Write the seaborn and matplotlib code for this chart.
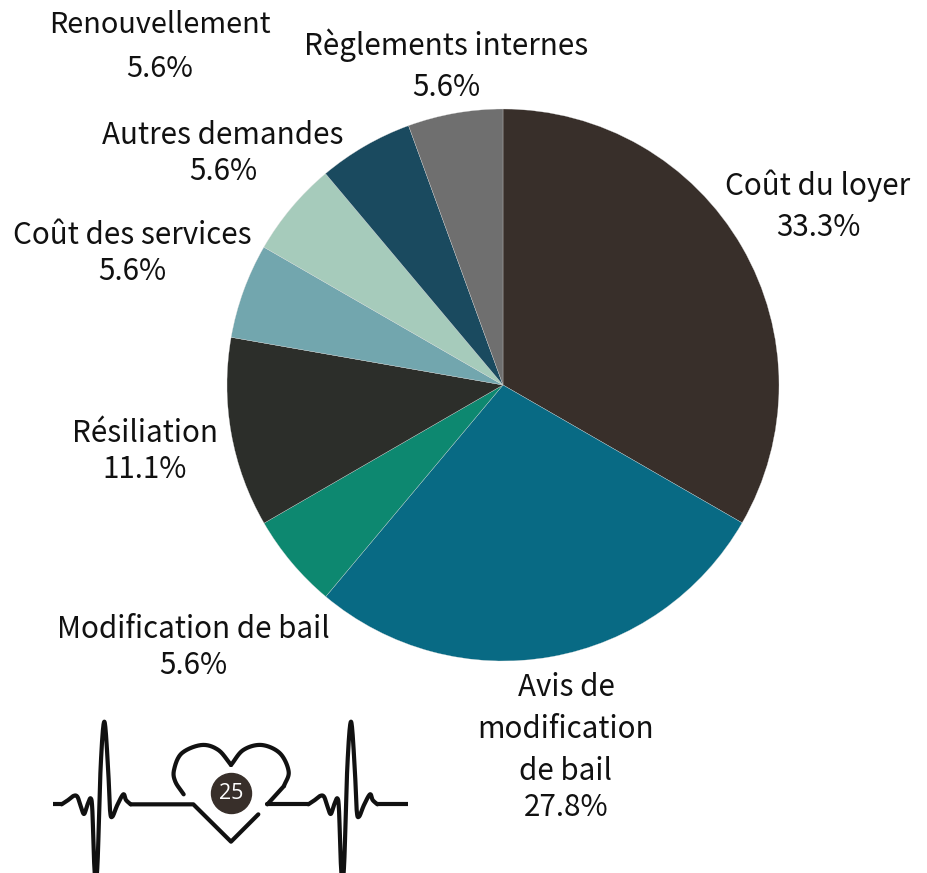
import matplotlib
matplotlib.use("Agg")
import matplotlib.pyplot as plt
import seaborn as sns
import numpy as np
from matplotlib.patches import Circle

sns.set_theme(style="white")
plt.rcParams['font.family'] = ['Noto Sans CJK SC', 'Noto Sans', 'DejaVu Sans']

categories = ["Coût du loyer", "Avis de\nmodification\nde bail", "Modification de bail", "Résiliation",
              "Coût des services", "Renouvellement", "Autres demandes", "Règlements internes"]
values = [33.3, 27.8, 5.6, 11.1, 5.6, 5.6, 5.6, 5.6]
pie_values = [33.33, 27.78, 5.56, 11.11, 5.56, 5.56, 5.56, 5.56]
colors = ["#382f2a", "#086a84", "#0d8870", "#2c2e2a", "#72a6ae", "#a6cbbb", "#1a4a5f", "#6f6f6f"]
label_x = [818, 566, 193, 145, 132, 160, 223, 446]
label_lines_y = [[186, 228], [688, 730, 772, 808], [630, 665], [434, 469],
                 [235, 271], [25, 69], [135, 171], [45, 88]]
label_sizes = [21.3, 21.3, 21.3, 21.3, 21.3, 20.8, 21.3, 21.3]

W, H = 928, 873
fig = plt.figure(figsize=(W/100, H/100), dpi=100)
ax = fig.add_axes([0, 0, 1, 1])
ax.set_xlim(0, W); ax.set_ylim(H, 0); ax.axis("off")

ax2 = fig.add_axes([(503-276)/W, 1-(385+276)/H, 552/W, 552/H])
ax2.pie(pie_values, colors=colors, startangle=90, counterclock=False, radius=1.0,
        wedgeprops=dict(edgecolor="#dddddd", linewidth=0.2))
ax2.set_xlim(-1, 1); ax2.set_ylim(-1, 1)

for c, v, x, ys, fs in zip(categories, values, label_x, label_lines_y, label_sizes):
    for line, y in zip(c.split("\n") + [f"{v}%"], ys):
        ax.text(x, y, line, ha="center", va="center", fontsize=fs, color="#111111")


def smooth(points, n=24):
    p = np.array(points, dtype=float)
    p = np.vstack([2 * p[0] - p[1], p, 2 * p[-1] - p[-2]])
    t = np.linspace(0, 1, n)[:, None]
    out = []
    for i in range(1, len(p) - 2):
        a, b, c, d = p[i - 1], p[i], p[i + 1], p[i + 2]
        out.append(0.5 * (2 * b + (c - a) * t + (2 * a - 5 * b + 4 * c - d) * t ** 2
                          + (3 * b - a - 3 * c + d) * t ** 3))
    return np.vstack(out)


def to_px(points):
    a = np.asarray(points, dtype=float)
    return np.column_stack([30 + a[:, 0] / 3, 700 + a[:, 1] / 3])


ecg = [(95, 313), (112, 302), (130, 288), (142, 290), (152, 318), (162, 342), (172, 315), (182, 295),
       (187, 330), (192, 480), (197, 540), (203, 480), (212, 200), (223, 65), (234, 200), (240, 330),
       (247, 350), (262, 315), (280, 283), (288, 300), (302, 313)]
style = dict(color="#111111", lw=3.0, solid_capstyle="round", solid_joinstyle="round", clip_on=True)
for off in (0, 740):
    px = to_px(smooth([(x + off, y) for x, y in ecg]))
    ax.plot(px[:, 0], px[:, 1], **style)

seg1 = to_px([(70, 313), (95, 313)])
seg2 = to_px([(302, 313), (490, 313), (603, 425), (685, 343)])
seg3 = to_px([(712, 313), (835, 313)])
seg4 = to_px([(1042, 313), (1133, 313)])
for s in (seg1, seg4):
    ax.plot(s[:, 0], s[:, 1], **{**style, "solid_capstyle": "butt"})
for s in (seg2, seg3):
    ax.plot(s[:, 0], s[:, 1], **style)

heart_left = smooth([(461, 283), (436, 245), (432, 210), (455, 160), (515, 135), (565, 150), (603, 195)])
heart_right = smooth([(603, 195), (640, 150), (695, 135), (750, 160), (776, 215), (762, 258)])
for h in (heart_left, heart_right):
    px = to_px(h)
    ax.plot(px[:, 0], px[:, 1], **style)
tail = to_px([(762, 258), (712, 313)])
ax.plot(tail[:, 0], tail[:, 1], **style)

ax.add_patch(Circle((231.5, 793.5), 20, color="#382f2a", zorder=3))
ax.text(231.5, 793.5, "25", ha="center", va="center", color="white", fontsize=15.5, zorder=4,
        family=["Open Sans", "DejaVu Sans"])

fig.savefig("out.png", dpi=100)
